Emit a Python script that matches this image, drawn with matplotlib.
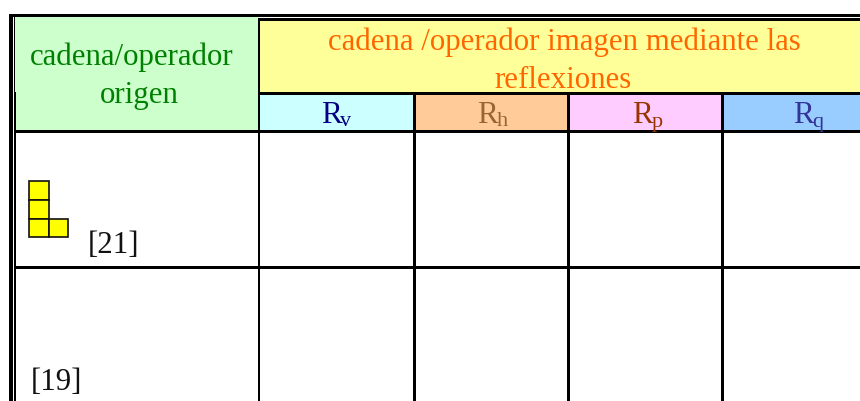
import matplotlib
matplotlib.use("Agg")
import matplotlib.pyplot as plt
from matplotlib.patches import Rectangle

plt.rcParams['font.family'] = ['Liberation Serif', 'DejaVu Serif']

# ------------------ Table content ------------------
origin_header = ["cadena/operador", "origen"]
image_header = ["cadena /operador imagen mediante las", "reflexiones"]
reflections = ["R", "R", "R", "R"]
reflection_subs = ["v", "h", "p", "q"]
reflection_colors = ["#000080", "#996633", "#993300", "#333399"]
reflection_fills = ["#CCFFFF", "#FFCC99", "#FFCCFF", "#99CCFF"]
row_labels = ["[21]", "[19]"]

# ------------------ Layout in pixels ------------------
W, H = 860, 401
col_x = [259, 414.5, 568.5, 722.5, 860]
FS = 22.2

fig = plt.figure(figsize=(W / 100, H / 100), dpi=100)
ax = fig.add_axes([0, 0, 1, 1])
ax.set_xlim(0, W)
ax.set_ylim(H, 0)
ax.axis("off")


def fill(x0, y0, x1, y1, color):
    ax.add_patch(Rectangle((x0, y0), x1 - x0, y1 - y0, fc=color, ec="none", zorder=1))


def black(x0, y0, x1, y1):
    ax.add_patch(Rectangle((x0, y0), x1 - x0, y1 - y0, fc="black", ec="none", zorder=3))


# header fills
fill(15, 17, 259, 131, "#CCFFCC")
fill(259, 20, W, 93, "#FFFF99")
for i in range(4):
    fill(col_x[i], 94, col_x[i + 1], 131, reflection_fills[i])

# outer double border
black(9, 14, W, 17)
black(9, 14, 12.5, H)
black(14, 17, 15, 92)
black(13.5, 92, 16, H)
black(258, 18.3, W, 21)

# inner grid
black(15, 130, W, 133)
black(15, 266, W, 269)
black(258, 92, W, 95)
black(257.7, 18.3, 260, H)
for x in col_x[1:4]:
    black(x - 1.3, 93, x + 1.3, H)

# header text
ax.text(132, 65.5, origin_header[0], color="#008000", fontsize=FS, ha="center", va="baseline", zorder=4)
ax.text(139.5, 103.5, origin_header[1], color="#008000", fontsize=FS, ha="center", va="baseline", zorder=4)
ax.text(564, 50, image_header[0], color="#FF6600", fontsize=FS, ha="center", va="baseline", zorder=4)
ax.text(563.5, 88, image_header[1], color="#FF6600", fontsize=FS, ha="center", va="baseline", zorder=4)

r_left = [321.5, 477.5, 632.5, 793.5]
for i in range(4):
    ax.text(r_left[i], 123, reflections[i], color=reflection_colors[i], fontsize=FS,
            ha="left", va="baseline", zorder=4)
    ax.text(r_left[i] + 19, 126.5, reflection_subs[i], color=reflection_colors[i], fontsize=16,
            ha="left", va="baseline", zorder=4)

# yellow L shape
for x0, y0, x1, y1 in [(29, 180.5, 49, 200), (29, 200, 49, 219), (29, 219, 49, 237), (49, 219, 68, 237)]:
    ax.add_patch(Rectangle((x0, y0), x1 - x0, y1 - y0, fc="#FFFF00", ec="#111111", lw=1.2, zorder=4))

# row labels
ax.text(88, 253, row_labels[0], color="#111111", fontsize=FS, ha="left", va="baseline", zorder=4)
ax.text(31, 390, row_labels[1], color="#111111", fontsize=FS, ha="left", va="baseline", zorder=4)

fig.savefig("out.png", dpi=100)
